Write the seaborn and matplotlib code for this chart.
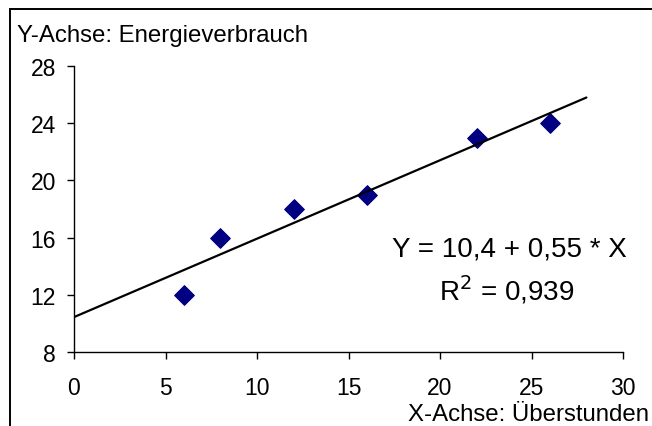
import numpy as np
import pandas as pd
import matplotlib
matplotlib.use("Agg")
import matplotlib.pyplot as plt
import seaborn as sns
from matplotlib.patches import Rectangle

overtime = [6, 8, 12, 16, 22, 26]
energy = [12, 16, 18, 19, 23, 24]
x_ticks = [0, 5, 10, 15, 20, 25, 30]
y_ticks = [8, 12, 16, 20, 24, 28]
trend_range = [0, 28]

sns.set_theme(style="white")
plt.rcParams['font.family'] = ['Liberation Sans', 'DejaVu Sans']
plt.rcParams['text.color'] = 'black'

df = pd.DataFrame({"x": overtime, "y": energy})
slope, intercept = np.polyfit(overtime, energy, 1)
r2 = np.corrcoef(overtime, energy)[0, 1] ** 2
tl = pd.DataFrame({"x": trend_range, "y": [intercept + slope * v for v in trend_range]})

fig = plt.figure(figsize=(6.52, 4.27), dpi=100)
fig.patches.append(Rectangle((10/652, -0.1), 1.0, 1 - 10/427 + 0.1, transform=fig.transFigure,
                             fill=False, edgecolor="black", linewidth=1.4))
ax = fig.add_axes([74/652, 74/427, (623-74)/652, (353-67)/427])

sns.scatterplot(data=df, x="x", y="y", ax=ax, marker="D", s=100, color="#000080",
                edgecolor="#000080", zorder=2)
sns.lineplot(data=tl, x="x", y="y", ax=ax, color="black", linewidth=1.6, zorder=3)

ax.set_xlim(0, 30)
ax.set_ylim(8, 28)
ax.set_xticks(x_ticks)
ax.set_yticks(y_ticks)
ax.set_xticklabels([str(t) for t in x_ticks])
ax.set_yticklabels([str(t) for t in y_ticks])
ax.set_xlabel("")
ax.set_ylabel("")
for s in ["top", "right"]:
    ax.spines[s].set_visible(False)
for s in ["left", "bottom"]:
    ax.spines[s].set_color("black")
    ax.spines[s].set_linewidth(1.0)
ax.tick_params(axis="both", direction="out", length=5, width=1, color="black",
               labelsize=16.5, labelcolor="black", bottom=True, left=True)
ax.tick_params(axis="x", pad=12)
ax.tick_params(axis="y", pad=8)

fig.text(17/652, 1 - 36/427, "Y-Achse: Energieverbrauch", fontsize=17.3, va="center",
         ha="left", color="black")
fig.text(649/652, 1 - 415/427, "X-Achse: Überstunden", fontsize=17.3, va="center",
         ha="right", color="black")

fmt = lambda v, d: f"{v:.{d}f}".replace(".", ",")
ax.text(509/652, 1 - 249/427, f"Y = {fmt(intercept, 1)} + {fmt(slope, 2)} * X",
        transform=fig.transFigure, fontsize=20, ha="center", va="center", color="black")
ax.text(507/652, 1 - 290/427, f"R$^2$ = {fmt(r2, 3)}",
        transform=fig.transFigure, fontsize=20, ha="center", va="center", color="black")

fig.savefig("out.png", dpi=100)
